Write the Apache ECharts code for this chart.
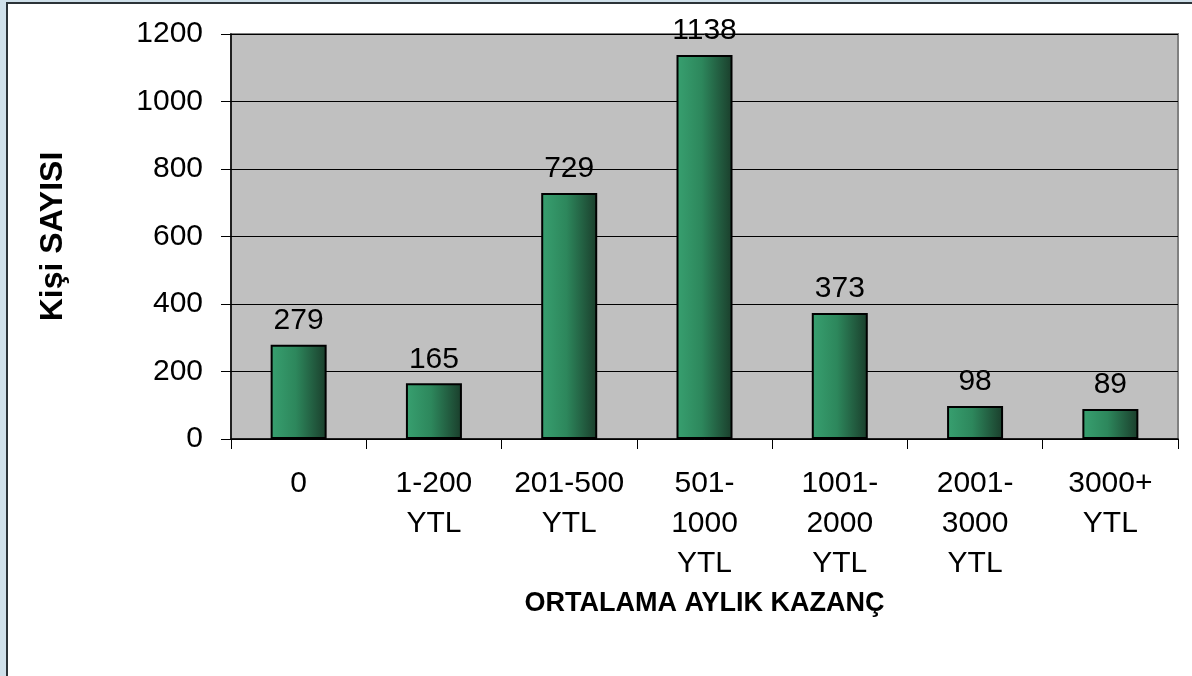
<!DOCTYPE html>
<html>
<head>
<meta charset="utf-8">
<script src="https://cdn.jsdelivr.net/npm/echarts@6/dist/echarts.min.js"></script>
<style>
  html, body { margin: 0; padding: 0; background: #cfe0ea; overflow: hidden; }
  #frame { position: absolute; left: 6px; top: 2px; width: 1300px; height: 800px;
           background: #fff; border-left: 2px solid #2b3338; border-top: 2px solid #2b3338; }
  #chart { position: absolute; left: 0; top: 0; width: 1192px; height: 676px; }
</style>
</head>
<body>
<div id="frame"></div>
<div id="chart"></div>
<script>
// income groups and head counts
const categories = ['0', '1-200\nYTL', '201-500\nYTL', '501-\n1000\nYTL', '1001-\n2000\nYTL', '2001-\n3000\nYTL', '3000+\nYTL'];
const counts = [279, 165, 729, 1138, 373, 98, 89];
const yTicks = { min: 0, max: 1200, interval: 200 };

const font = 'Liberation Sans, Arial, sans-serif';

const chart = echarts.init(document.getElementById('chart'));

chart.setOption({
    animation: false,
    backgroundColor: 'transparent',
    grid: {
        left: 231, top: 34, right: 14, bottom: 237,
        show: true,
        backgroundColor: '#c0c0c0',
        borderColor: '#808080',
        borderWidth: 2
    },
    xAxis: {
        type: 'category',
        data: categories,
        name: 'ORTALAMA AYLIK KAZANÇ',
        nameLocation: 'middle',
        nameGap: 151,
        nameTextStyle: { fontFamily: font, fontSize: 27, fontWeight: 'bold', color: '#000' },
        axisLine: { lineStyle: { color: '#000', width: 1.5 } },
        axisTick: { show: true, length: 10, alignWithLabel: false, lineStyle: { color: '#000' } },
        axisLabel: {
            interval: 0, margin: 25, fontFamily: font, fontSize: 30, lineHeight: 40, color: '#000'
        }
    },
    yAxis: {
        type: 'value',
        min: yTicks.min, max: yTicks.max, interval: yTicks.interval,
        name: 'Kişi SAYISI',
        nameLocation: 'middle',
        nameGap: 162,
        nameRotate: 90,
        nameTextStyle: { fontFamily: font, fontSize: 32, fontWeight: 'bold', color: '#000' },
        axisLine: { show: true, lineStyle: { color: '#000', width: 1.5 } },
        axisTick: { show: true, length: 10, lineStyle: { color: '#000' } },
        axisLabel: { margin: 28, fontFamily: font, fontSize: 30, color: '#000', formatter: v => String(v) },
        splitLine: { lineStyle: { color: '#000', width: 1 } }
    },
    series: [{
        type: 'bar',
        data: counts,
        barWidth: 56,
        itemStyle: {
            borderColor: '#000',
            borderWidth: 2,
            color: new echarts.graphic.LinearGradient(0, 0, 1, 0, [
                { offset: 0, color: '#38a070' },
                { offset: 0.45, color: '#2d875c' },
                { offset: 1, color: '#1a3d2b' }
            ])
        },
        label: {
            show: true, position: 'top', distance: 9,
            fontFamily: font, fontSize: 30, color: '#000'
        }
    }]
});
</script>
</body>
</html>
